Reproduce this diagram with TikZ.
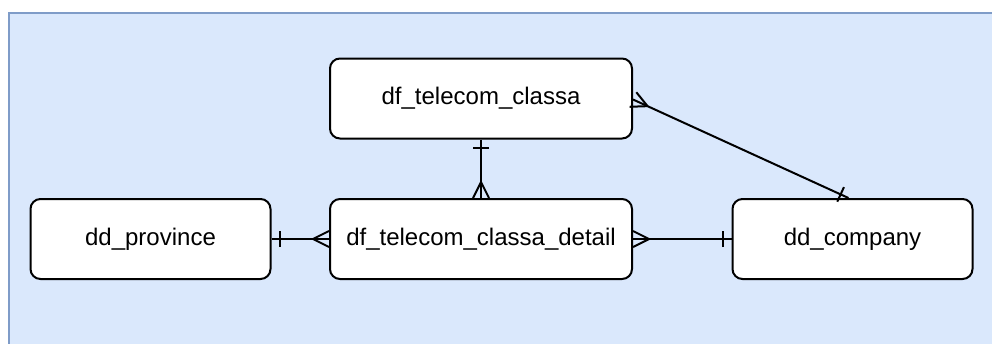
\documentclass[tikz,border=0pt]{standalone}
\usepackage{fontspec}
\setmainfont{Liberation Sans}
\usetikzlibrary{calc}
\definecolor{bgfill}{HTML}{DAE8FC}
\definecolor{bgline}{HTML}{7F9CC8}
\tikzset{
  entity/.style={draw=black, fill=white, line width=1.5pt, rounded corners=7.5pt,
    minimum width=226.5pt, minimum height=60pt, inner sep=0pt,
    font=\fontsize{18}{21}\selectfont},
  conn/.style={draw=black, line width=1.5pt},
}
% crow's foot at end E coming from P
\newcommand{\crowfoot}[2]{%
  \draw[conn] ($(#1)!12pt!(#2)$) -- ($(#1)!6pt!90:(#2)$);
  \draw[conn] ($(#1)!12pt!(#2)$) -- ($(#1)!6pt!-90:(#2)$);
}
% one bar near end E coming from P
\newcommand{\onebar}[2]{%
  \draw[conn] ($($(#1)!6.5pt!(#2)$)!6pt!90:(#2)$) -- ($($(#1)!6.5pt!(#2)$)!6pt!-90:(#2)$);
}
\begin{document}
\begin{tikzpicture}[x=0.75pt,y=-0.75pt]
\useasboundingbox (0,0) rectangle (992,343);
\begin{scope}
\clip (0,0) rectangle (992,343);
\draw[bgline, fill=bgfill, line width=1.5pt] (8.5,12.5) rectangle (1010,360);
\end{scope}

\node[entity] (top) at (481,98.5) {df\_telecom\_classa};
\node[entity] (mid) at (481,239) {df\_telecom\_classa\_detail};
\node[entity, minimum width=180pt] (prov) at (150.5,239) {dd\_province};
\node[entity, minimum width=180pt] (comp) at (852.5,239) {dd\_company};

% top -- mid
\coordinate (t1) at (top.south);
\coordinate (m1) at (mid.north);
\draw[conn] (t1) -- (m1);
\onebar{t1}{m1}
\crowfoot{m1}{t1}

% prov -- mid
\coordinate (p2) at (prov.east);
\coordinate (m2) at (mid.west);
\draw[conn] (p2) -- (m2);
\onebar{p2}{m2}
\crowfoot{m2}{p2}

% mid -- comp
\coordinate (m3) at (mid.east);
\coordinate (c3) at (comp.west);
\draw[conn] (m3) -- (c3);
\crowfoot{m3}{c3}
\onebar{c3}{m3}

% top -- comp
\coordinate (t4) at ($(top.east)+(0,1)$);
\coordinate (c4) at ($(comp.north)+(-4,0)$);
\draw[conn] (t4) -- (c4);
\crowfoot{t4}{c4}
\onebar{c4}{t4}
\end{tikzpicture}
\end{document}
